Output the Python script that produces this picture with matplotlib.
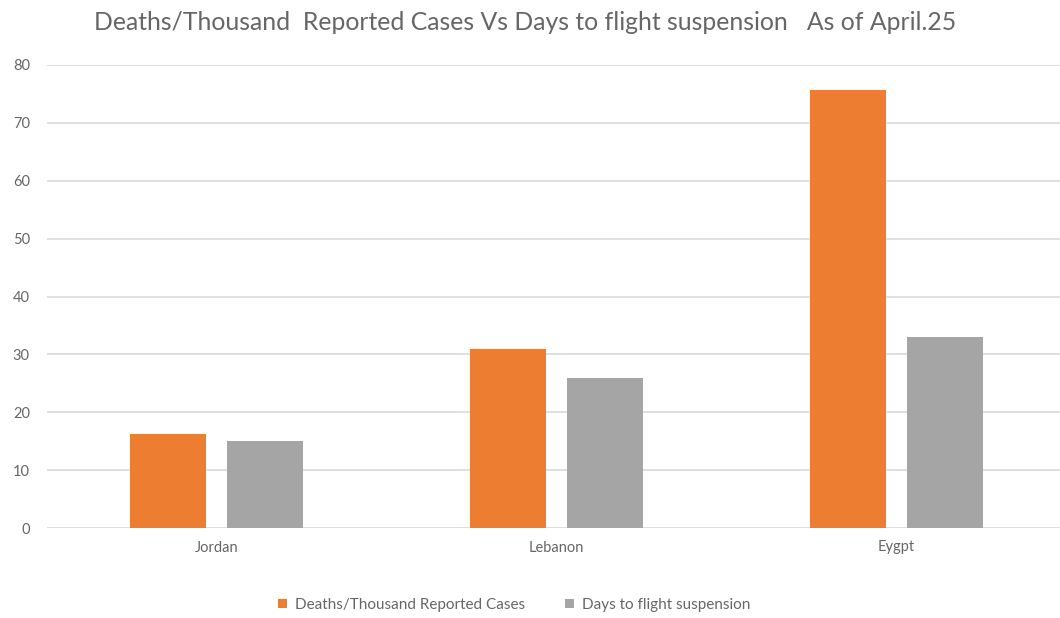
import matplotlib
matplotlib.use("Agg")
import matplotlib.pyplot as plt
import numpy as np
from matplotlib.patches import Patch

countries = ["Jordan", "Lebanon", "Eygpt"]
deaths_per_thousand = [16.2, 31, 75.6]
days_to_suspension = [15, 26, 33]
series_names = ["Deaths/Thousand Reported Cases", "Days to flight suspension"]
title = "Deaths/Thousand  Reported Cases Vs Days to flight suspension   As of April.25"

orange = "#ED7D31"
gray = "#A5A5A5"
text_col = "#666666"

plt.rcParams["font.family"] = ["Lato", "DejaVu Sans"]

fig = plt.figure(figsize=(10.6, 6.18), dpi=100)
ax = fig.add_axes([46.5 / 1060, 90 / 618, (1060 - 46.5) / 1060, 463 / 618])

x = np.arange(len(countries))
w = 0.224
gap = 0.062
ax.bar(x - (w + gap) / 2, deaths_per_thousand, width=w, color=orange, zorder=3)
ax.bar(x + (w + gap) / 2, days_to_suspension, width=w, color=gray, zorder=3)

ax.set_xlim(-0.5, -0.5 + 1013.5 / 340)
ax.set_ylim(0, 80)
ax.set_yticks(np.arange(0, 81, 10))
ax.set_xticks(x)
ax.set_xticklabels(countries)
ax.grid(axis="y", color="#D9D9D9", linewidth=1.2, zorder=0)
for s in ax.spines.values():
    s.set_visible(False)
ax.tick_params(axis="both", length=0, colors=text_col, labelsize=10.5)
ax.tick_params(axis="y", pad=12)
ax.tick_params(axis="x", pad=9)

fig.text(0.495, 1 - 22 / 618, title, ha="center", va="center",
         fontsize=17.8, color=text_col)

handles = [Patch(facecolor=orange, label=series_names[0]),
           Patch(facecolor=gray, label=series_names[1])]
fig.legend(handles=handles, loc="center", bbox_to_anchor=(0.485, 1 - 605 / 618),
           ncol=2, frameon=False, fontsize=11, labelcolor=text_col,
           handlelength=0.6, handleheight=0.6, handletextpad=0.5,
           columnspacing=2.6)

fig.savefig("out.png", dpi=100, facecolor="white")
